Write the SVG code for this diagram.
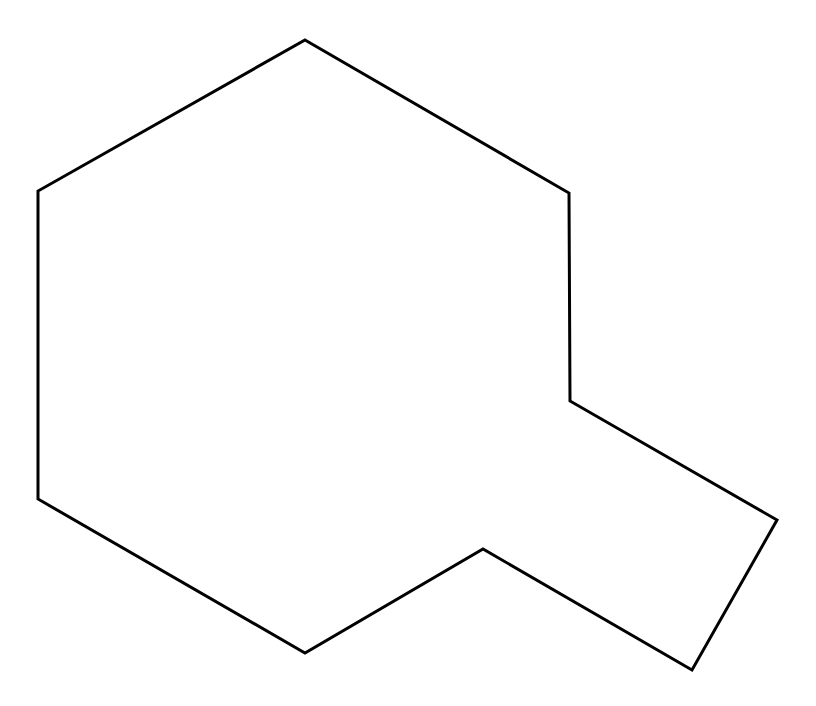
<svg xmlns="http://www.w3.org/2000/svg" width="816" height="706" viewBox="0 0 816 706">
<style>.outline{fill:none;stroke:#000;stroke-width:3;stroke-linejoin:miter}</style>
<rect width="816" height="706" fill="#fff"/>
<g id="shape">
<polygon class="outline" points="305,40 569,193 570,401 777,520 692,670 483,549 305,653 38,499 38,191"/>
</g>
</svg>
